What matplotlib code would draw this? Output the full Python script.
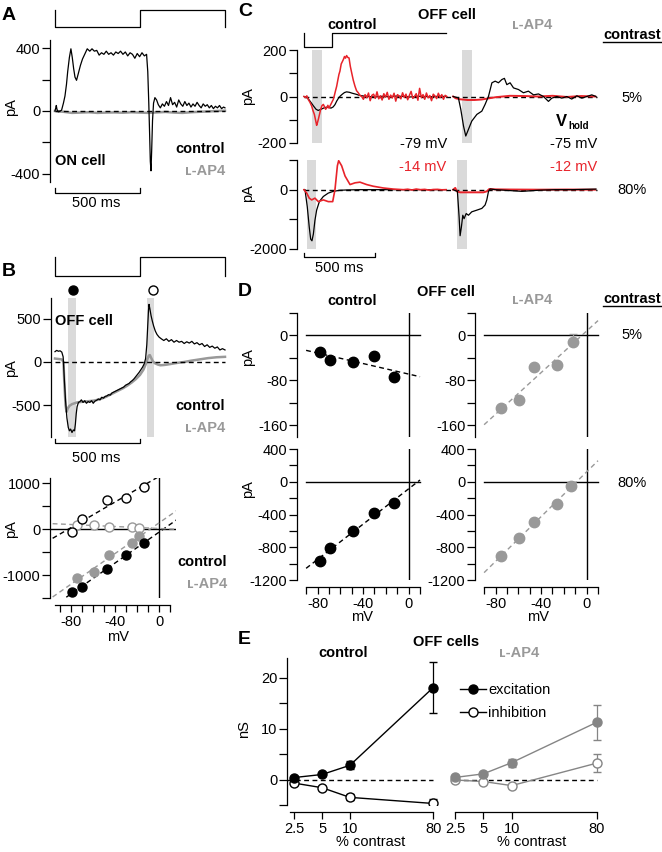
import numpy as np
import matplotlib
matplotlib.use('Agg')
import matplotlib.pyplot as plt
from matplotlib.lines import Line2D
from matplotlib.ticker import NullLocator

# ======================= DATA =======================
# light stimulus (0 = dark step, 1 = bright step)
stim_ab_t = [0, 0, 500, 500, 1000, 1000]
stim_ab_v = [1, 0, 0, 1, 1, 0]
stim_c_t = [0, 0, 200, 200, 1000]
stim_c_v = [1, 0, 0, 1, 1]

# Panel A : ON cell, time (ms), current (pA)
a_ctrl = np.array([
    [0, 0], [5, 20], [8, 35], [12, 10], [20, -5], [30, 0], [39, 5], [50, 50], [59, 95], [68, 170],
    [75, 250], [85, 340], [94, 395], [102, 340], [110, 270], [118, 215], [127, 195], [138, 240],
    [150, 290], [162, 330], [175, 360], [190, 395], [205, 380], [218, 395], [232, 380], [246, 385],
    [260, 355], [274, 370], [288, 360], [302, 380], [316, 360], [330, 370], [344, 355], [358, 375],
    [372, 365], [386, 380], [400, 360], [414, 375], [428, 350], [442, 370], [456, 360], [470, 335],
    [484, 365], [498, 345], [512, 370], [526, 350], [539, 360], [546, 250], [552, 50], [557, -150],
    [561, -320], [565, -380], [569, -250], [574, -60], [580, 50], [588, 85], [598, 70], [608, 40],
    [620, 20], [632, 45], [644, 30], [656, 60], [668, 35], [680, 85], [692, 40], [704, 55],
    [716, 25], [728, 70], [740, 45], [752, 30], [764, 60], [776, 35], [788, 50], [800, 25],
    [812, 45], [824, 30], [836, 55], [848, 35], [860, 20], [872, 45], [884, 30], [896, 40],
    [908, 20], [920, 35], [932, 15], [944, 30], [956, 20], [968, 35], [980, 15], [992, 25], [1000, 20]])
a_lap4 = np.array([
    [0, 0], [50, -5], [100, -12], [150, -10], [200, -8], [250, -12], [300, -10], [350, -9],
    [400, -11], [450, -8], [500, -10], [550, -12], [600, -9], [650, -6], [700, -10], [750, -12],
    [800, -8], [850, -5], [900, -3], [950, 0], [1000, 2]])

# Panel B : OFF cell traces
b_ctrl = np.array([
    [0, 120], [10, 135], [20, 125], [30, 130], [40, 115], [48, 60], [55, -200], [62, -450],
    [70, -650], [78, -760], [85, -800], [92, -780], [100, -820], [108, -790], [115, -800],
    [120, -720], [125, -600], [130, -520], [138, -470], [147, -460], [155, -440], [165, -470],
    [175, -450], [185, -480], [195, -460], [205, -470], [215, -450], [225, -480], [235, -455],
    [245, -445], [255, -430], [265, -440], [275, -410], [285, -420], [295, -400], [305, -395],
    [315, -380], [325, -385], [335, -360], [345, -350], [355, -340], [365, -330], [375, -320],
    [385, -310], [395, -300], [405, -290], [415, -270], [425, -260], [435, -250], [445, -230],
    [455, -215], [465, -195], [475, -170], [485, -145], [495, -120], [505, -90], [515, -60],
    [525, -20], [533, 40], [540, 200], [545, 400], [550, 600], [553, 670], [558, 620], [565, 540],
    [572, 480], [580, 420], [590, 360], [600, 320], [612, 290], [625, 270], [640, 250], [655, 270],
    [670, 240], [685, 260], [700, 230], [715, 250], [730, 230], [745, 240], [760, 215], [775, 235],
    [790, 220], [805, 240], [820, 210], [835, 225], [850, 200], [865, 215], [880, 180], [895, 200],
    [910, 170], [925, 185], [940, 160], [955, 175], [970, 140], [985, 155], [1000, 140]])
b_lap4 = np.array([
    [0, 40], [20, 35], [40, 30], [50, 0], [55, -250], [62, -500], [68, -580], [75, -540],
    [85, -510], [100, -490], [115, -480], [130, -470], [150, -465], [175, -460], [200, -455],
    [225, -450], [250, -440], [275, -425], [300, -405], [325, -380], [350, -355], [375, -330],
    [400, -305], [425, -275], [450, -240], [475, -200], [500, -150], [520, -90], [535, -20],
    [545, 40], [552, 75], [558, 80], [565, 50], [575, 10], [588, -15], [605, -30], [620, -38],
    [640, -35], [660, -30], [690, -20], [720, -10], [760, 0], [800, 15], [850, 30], [900, 45],
    [950, 55], [1000, 60]])
b_windows = [(76, 124), (541, 582)]          # ms, shaded analysis windows
b_marks_t = [106, 576]                        # filled / open markers

# Panel B bottom : I-V (mV, pA)
b_ctrl_v = [-79, -70, -48, -30, -14]
b_ctrl_exc = [-1370, -1261, -870, -565, -298]
b_ctrl_inh = [-59, 224, 630, 667, 920]
b_lap4_v = [-75, -59, -46, -25, -18]
b_lap4_exc = [-1072, -941, -565, -298, -152]
b_lap4_inh = [87, 87, 50, 50, 22]

# Panel C : traces (ms, pA); blk = Vhold -79/-75 mV, red = -14/-12 mV
c_ctrl5_blk = np.array([
    [0, 0], [15, -3], [30, -10], [45, -22], [60, -35], [72, -45], [85, -55], [100, -60], [115, -56],
    [130, -52], [145, -48], [160, -46], [175, -47], [190, -50], [205, -45], [218, -35], [230, -20],
    [242, -8], [255, 2], [270, 10], [285, 17], [300, 20], [320, 18], [340, 14], [365, 10], [390, 5],
    [420, 2], [450, 0], [500, -2], [550, 1], [600, -1], [650, 2], [700, 0], [750, -2], [800, 1],
    [850, 0], [900, -1], [950, 1], [1000, 0]])
c_ctrl5_red_head = np.array([
    [0, 0], [10, -5], [20, 3], [30, -13], [42, -25], [54, -41], [63, -60], [73, -77], [81, -100],
    [89, -124], [95, -112], [101, -98], [108, -80], [117, -56], [126, -40], [136, -34], [145, -45],
    [152, -55], [160, -49], [168, -38], [176, -50], [183, -41], [192, -30], [200, -20], [206, -13],
    [214, 5], [222, 25], [230, 44], [238, 70], [246, 95], [253, 109], [262, 140], [270, 150],
    [277, 159], [285, 172], [292, 165], [300, 176], [308, 168], [317, 166], [326, 130], [336, 101],
    [347, 70], [359, 44], [370, 25], [382, 16], [394, 5]])
c_ctrl5_red_tail_t = [406 + 12 * k for k in range(51)]
c_ctrl5_red_tail_i = [0, -12, 8, -5, 15, -18, 5, 10, -8, 20, -10, 3, -15, 12, -3, 18, -12, 6, -6,
                      14, -20, 8, 2, -10, 16, -4, 10, -14, 5, 22, -8, 0, 12, -16, 35, -5, 8, -12,
                      15, -6, 4, -18, 10, 2, -9, 14, -4, 8, -12, 5, 0]
c_lap45_blk = np.array([
    [0, 0], [37, -6], [54, -56], [73, -127], [89, -170], [108, -141], [131, -106], [167, -77],
    [202, -63], [225, -34], [249, 1], [273, 59], [296, 66], [319, 59], [343, 73], [361, 78],
    [378, 51], [401, 59], [425, 37], [460, 30], [495, 16], [530, 23], [566, 7], [601, 11],
    [636, 0], [671, -21], [695, -7], [730, 0], [765, -7], [800, 0], [835, -11], [871, 3],
    [906, -7], [941, 0], [976, 7], [1006, 0]])
c_lap45_red = np.array([
    [0, 0], [20, -8], [50, -12], [100, -15], [150, -15], [200, -13], [250, -8], [300, -3],
    [350, 0], [400, 3], [500, 2], [600, 0], [700, 3], [800, -2], [900, 2], [1000, 0]])
c_ctrl80_blk = np.array([
    [0, 0], [7, 0], [23, -576], [37, -1266], [47, -1666], [56, -1724], [66, -1494], [77, -1034],
    [89, -690], [108, -403], [136, -230], [171, -115], [206, -57], [253, -20], [300, -10],
    [400, 0], [600, 0], [800, 0], [1000, 0]])
c_ctrl80_red = np.array([
    [0, 0], [19, -115], [37, -287], [54, -345], [77, -287], [101, -403], [136, -345], [171, -403],
    [202, -403], [218, 0], [235, 805], [244, 977], [265, 805], [289, 460], [324, 172], [359, 230],
    [394, 253], [441, 172], [488, 115], [558, 57], [629, 20], [700, 0], [730, 15], [760, -10],
    [790, 20], [820, 0], [850, 10], [880, -15], [910, 5], [940, 10], [970, -5], [1000, 0]])
c_lap480_blk = np.array([
    [0, 0], [30, -57], [42, -920], [49, -1552], [58, -1264], [68, -862], [77, -977], [92, -805],
    [108, -862], [131, -747], [167, -690], [202, -632], [225, -517], [237, -345], [249, -57],
    [261, 23], [296, 0], [366, -20], [484, -57], [601, -20], [718, 0], [836, 0], [1006, 20]])
c_lap480_red = np.array([
    [0, 0], [15, 60], [26, -57], [49, -90], [143, -90], [213, -90], [237, -57], [255, 23],
    [300, 10], [400, 5], [600, 0], [800, 5], [1000, 0]])
c_windows_5 = [(56, 127), (62, 133)]
c_windows_80 = [(21, 84), (28, 99)]

# Panel D : I-V (mV, pA)
d_ctrl_v = [-78, -69, -49, -30, -13]
d_ctrl_5 = [-30, -43, -48, -37, -74]
d_ctrl_80 = [-963, -812, -597, -377, -262]
d_lap4_v5 = [-75, -59, -46, -26, -12]
d_lap4_5 = [-130, -115, -56, -53, -11]
d_lap4_5_err = [0, 0, 0, 0, 13]
d_lap4_v80 = [-75, -59, -46, -26, -14]
d_lap4_80 = [-906, -690, -487, -271, -51]

# Panel E : conductance (nS) vs contrast (%)
contrast = [2.5, 5, 10, 80]
contrast_labels = ['2.5', '5', '10', '80']
e_ctrl_exc = [0.4, 1.0, 2.8, 18.1]
e_ctrl_exc_err = [0.3, 0.3, 0.8, 5.0]
e_ctrl_inh = [-0.7, -1.6, -3.5, -4.7]
e_ctrl_inh_err = [0.2, 0.3, 0.6, 0.8]
e_lap4_exc = [0.5, 1.2, 3.4, 11.3]
e_lap4_exc_err = [0.3, 0.4, 0.8, 3.4]
e_lap4_inh = [0.0, -0.3, -1.1, 3.3]
e_lap4_inh_err = [0.2, 0.3, 0.4, 1.8]

# ======================= STYLE =======================
plt.rcParams['font.family'] = ['Liberation Sans', 'DejaVu Sans']
plt.rcParams['font.size'] = 10.5
GREY = '#999999'
GREY_E = '#858585'
BAR = '#dadada'
RED = '#e8232a'
LAP4 = '\u029f-AP4'
DASH = (3.5, 2.5)

W, H = 662, 852
fig = plt.figure(figsize=(W / 100, H / 100), dpi=100)


def box(l, t, r, b):
    return [l / W, 1 - b / H, (r - l) / W, (b - t) / H]


def add_ax(l, t, r, b):
    ax = fig.add_axes(box(l, t, r, b))
    ax.patch.set_visible(False)
    for s in ax.spines.values():
        s.set_visible(False)
        s.set_linewidth(0.9)
    ax.set_xticks([])
    ax.set_yticks([])
    return ax


def yticks(ax, ticks, labels):
    ax.spines['left'].set_visible(True)
    ax.set_yticks(ticks)
    ax.set_yticklabels(labels)
    ax.tick_params(axis='y', length=5.5, width=0.9, pad=1.5, labelsize=10.5)


def xticks(ax, ticks, labels, bounds, offset=5):
    ax.spines['bottom'].set_visible(True)
    ax.spines['bottom'].set_position(('outward', offset))
    ax.spines['bottom'].set_bounds(*bounds)
    ax.set_xticks(ticks)
    ax.set_xticklabels(labels)
    ax.tick_params(axis='x', length=5, width=0.9, pad=2, labelsize=10.5)


def ftext(x, y, s, **kw):
    kw.setdefault('va', 'center')
    fig.text(x / W, 1 - y / H, s, **kw)


def scalebar(ax, t0, t1, yb, yt):
    tr = ax.get_xaxis_transform()
    ax.plot([t0, t0, t1, t1], [yt, yb, yb, yt], color='k', lw=0.9, transform=tr, clip_on=False)


def stim(l, t, r, b, xlim, ts, vs):
    ax = add_ax(l, t, r, b)
    ax.set_xlim(*xlim)
    ax.set_ylim(0, 1)
    ax.plot(ts, vs, color='k', lw=0.9, clip_on=False)
    return ax


# ======================= PANEL A =======================
axA = add_ax(50, 40, 227, 182)
xlA = (-29, 1012)
axA.set_xlim(*xlA)
axA.set_ylim(-451, 451)
yticks(axA, [-400, -200, 0, 200, 400], ['-400', '', '0', '', '400'])
axA.plot(a_lap4[:, 0], a_lap4[:, 1], color=GREY, lw=1.8)
axA.plot([0, 1000], [0, 0], color='k', lw=1, dashes=DASH)
axA.plot(a_ctrl[:, 0], a_ctrl[:, 1], color='k', lw=0.9)
stim(50, 10, 227, 27, xlA, stim_ab_t, stim_ab_v)
scalebar(axA, 0, 500, -0.0775, -0.042)
ftext(2, 16, 'A', fontsize=14, weight='bold')
ftext(11, 107, 'pA', rotation=90, ha='center')
ftext(55, 161, 'ON cell', weight='bold')
ftext(225, 149, 'control', weight='bold', ha='right')
ftext(225, 171, LAP4, weight='bold', ha='right', color=GREY)
ftext(96, 203, '500 ms', ha='center')

# ======================= PANEL B (traces) =======================
axB = add_ax(51, 298, 227, 437)
xlB = (-23.5, 1011.8)
axB.set_xlim(*xlB)
axB.set_ylim(-872, 744)
yticks(axB, [-500, 0, 500], ['-500', '0', '500'])
for w0, w1 in b_windows:
    axB.axvspan(w0, w1, color=BAR, lw=0, zorder=0)
axB.plot(b_lap4[:, 0], b_lap4[:, 1], color=GREY, lw=1.8)
axB.plot([0, 1000], [0, 0], color='k', lw=1, dashes=DASH)
axB.plot(b_ctrl[:, 0], b_ctrl[:, 1], color='k', lw=0.9)
trB = axB.get_xaxis_transform()
axB.plot([b_marks_t[0]], [1.058], 'o', ms=6.5, color='k', transform=trB, clip_on=False)
axB.plot([b_marks_t[1]], [1.058], 'o', ms=6.5, mfc='white', mec='k', mew=1, transform=trB, clip_on=False)
stim(51, 257, 227, 276, xlB, stim_ab_t, stim_ab_v)
scalebar(axB, 0, 500, -0.043, -0.016)
ftext(2, 272, 'B', fontsize=14, weight='bold')
ftext(11, 368, 'pA', rotation=90, ha='center')
ftext(55, 321, 'OFF cell', weight='bold')
ftext(225, 406, 'control', weight='bold', ha='right')
ftext(225, 428, LAP4, weight='bold', ha='right', color=GREY)
ftext(96, 458, '500 ms', ha='center')

# ======================= PANEL B (I-V) =======================
axBi = add_ax(50, 478, 176, 598)
axBi.set_xlim(-99.4, 15.2)
axBi.set_ylim(-1500, 1109)
yticks(axBi, [-1500, -1000, -500, 0, 500, 1000], ['', '-1000', '', '0', '', '1000'])
xticks(axBi, list(range(-90, 11, 10)), ['', '-80', '', '', '', '-40', '', '', '', '0', ''], (-95, 10), 5)
axBi.plot([-99.4, 14], [0, 0], color='k', lw=1)
axBi.axvline(0, color='k', lw=1)
vv = np.array([-97, 16])
for vs, ys, col in [(b_ctrl_v, b_ctrl_exc, 'k'), (b_ctrl_v, b_ctrl_inh, 'k'),
                    (b_lap4_v, b_lap4_exc, GREY), (b_lap4_v, b_lap4_inh, GREY)]:
    p = np.polyfit(vs, ys, 1)
    axBi.plot(vv, np.polyval(p, vv), color=col, lw=1, dashes=DASH)
axBi.plot(b_lap4_v, b_lap4_inh, 'o', ms=6.5, mfc='white', mec=GREY, mew=1)
axBi.plot(b_ctrl_v, b_ctrl_inh, 'o', ms=6.5, mfc='white', mec='k', mew=1)
axBi.plot(b_lap4_v, b_lap4_exc, 'o', ms=6.5, color=GREY, mec=GREY)
axBi.plot(b_ctrl_v, b_ctrl_exc, 'o', ms=6.5, color='k')
ftext(11, 529, 'pA', rotation=90, ha='center')
ftext(118, 637, 'mV', ha='center')
ftext(227, 562, 'control', weight='bold', ha='right')
ftext(227, 584, LAP4, weight='bold', ha='right', color=GREY)

# ======================= PANEL C =======================
xlC = (-49.3, 2084)
C_OFF = 1050
axC1 = add_ax(297, 50, 600, 143)
axC1.set_xlim(*xlC)
axC1.set_ylim(-200, 200)
yticks(axC1, [-200, -100, 0, 100, 200], ['-200', '', '0', '', '200'])
for (w0, w1), off in zip(c_windows_5, [0, C_OFF]):
    axC1.axvspan(w0 + off, w1 + off, color=BAR, lw=0, zorder=0)
axC1.plot([0, 1010 + C_OFF], [0, 0], color='k', lw=1, dashes=DASH)
axC1.plot(c_ctrl5_blk[:, 0], c_ctrl5_blk[:, 1], color='k', lw=0.9)
axC1.plot(np.r_[c_ctrl5_red_head[:, 0], c_ctrl5_red_tail_t],
          np.r_[c_ctrl5_red_head[:, 1], c_ctrl5_red_tail_i], color=RED, lw=1.1)
axC1.plot(c_lap45_red[:, 0] + C_OFF, c_lap45_red[:, 1], color=RED, lw=1.4)
axC1.plot(c_lap45_blk[:, 0] + C_OFF, c_lap45_blk[:, 1], color='k', lw=0.9)
stim(297, 33, 600, 47, xlC, stim_c_t, stim_c_v)

axC2 = add_ax(297, 160, 600, 249)
axC2.set_xlim(*xlC)
axC2.set_ylim(-2000, 1000)
yticks(axC2, [-2000, -1000, 0, 1000], ['-2000', '', '0', ''])
for (w0, w1), off in zip(c_windows_80, [0, C_OFF]):
    axC2.axvspan(w0 + off, w1 + off, color=BAR, lw=0, zorder=0)
axC2.plot([0, 1010 + C_OFF], [0, 0], color='k', lw=1, dashes=DASH)
axC2.plot(c_ctrl80_blk[:, 0], c_ctrl80_blk[:, 1], color='k', lw=0.9)
axC2.plot(c_ctrl80_red[:, 0], c_ctrl80_red[:, 1], color=RED, lw=1.2)
axC2.plot(c_lap480_red[:, 0] + C_OFF, c_lap480_red[:, 1], color=RED, lw=1.4)
axC2.plot(c_lap480_blk[:, 0] + C_OFF, c_lap480_blk[:, 1], color='k', lw=0.9)
scalebar(axC2, 0, 500, -0.0865, -0.045)

ftext(238, 12, 'C', fontsize=14, weight='bold')
ftext(352, 25, 'control', weight='bold', ha='center')
ftext(418, 15, 'OFF cell', weight='bold')
ftext(532, 25, LAP4, weight='bold', ha='center', color=GREY)
ftext(603, 35, 'contrast', weight='bold')
fig.add_artist(Line2D([603 / W, 662 / W], [1 - 42 / H, 1 - 42 / H], color='k', lw=1))
ftext(632, 98, '5%', ha='center')
ftext(632, 190, '80%', ha='center')
ftext(248, 96, 'pA', rotation=90, ha='center')
ftext(248, 193, 'pA', rotation=90, ha='center')
ftext(447, 144, '-79 mV', ha='right')
ftext(597, 144, '-75 mV', ha='right')
ftext(446, 167, '-14 mV', ha='right', color=RED)
ftext(597, 167, '-12 mV', ha='right', color=RED)
ftext(556, 121, 'V', weight='bold', fontsize=12)
ftext(568, 126, 'hold', weight='bold', fontsize=7)
ftext(339, 268, '500 ms', ha='center')

# ======================= PANEL D =======================
xlD = (-98, 12)
v_line = np.array([-90, 10])


def iv_axes(l, t, r, b, ylim, ticks, labels, show_x):
    ax = add_ax(l, t, r, b)
    ax.set_xlim(*xlD)
    ax.set_ylim(*ylim)
    yticks(ax, ticks, labels)
    ax.plot([-90, 10], [0, 0], color='k', lw=1)
    ax.axvline(0, color='k', lw=1)
    if show_x:
        xticks(ax, list(range(-90, 11, 10)), ['', '-80', '', '', '', '-40', '', '', '', '0', ''],
               (-90, 10), 5)
    return ax


t5 = [-160, -120, -80, -40, 0, 40]
l5 = ['-160', '', '-80', '', '0', '']
t80 = [-1200, -1000, -800, -600, -400, -200, 0, 200, 400]
l80 = ['-1200', '', '-800', '', '-400', '', '0', '', '400']

axD1 = iv_axes(297, 313, 422.3, 437, (-181, 40), t5, l5, False)
p = np.polyfit(d_ctrl_v, d_ctrl_5, 1)
axD1.plot(v_line, np.polyval(p, v_line), color='k', lw=1, dashes=DASH)
axD1.plot(d_ctrl_v, d_ctrl_5, 'o', ms=7.5, color='k')

axD2 = iv_axes(297, 449, 422.3, 580, (-1200, 400), t80, l80, True)
p = np.polyfit(d_ctrl_v, d_ctrl_80, 1)
axD2.plot(v_line, np.polyval(p, v_line), color='k', lw=1, dashes=DASH)
axD2.plot(d_ctrl_v, d_ctrl_80, 'o', ms=7.5, color='k')

axD3 = iv_axes(475, 313, 600.3, 437, (-181, 40), t5, l5, False)
p = np.polyfit(d_lap4_v5, d_lap4_5, 1)
axD3.plot(v_line, np.polyval(p, v_line), color=GREY, lw=1, dashes=DASH)
axD3.errorbar(d_lap4_v5, d_lap4_5, yerr=[[0] * 5, d_lap4_5_err], fmt='o', ms=7.5, color=GREY,
              ecolor=GREY, elinewidth=0.9, capsize=3)

axD4 = iv_axes(475, 449, 600.3, 580, (-1200, 400), t80, l80, True)
p = np.polyfit(d_lap4_v80, d_lap4_80, 1)
axD4.plot(v_line, np.polyval(p, v_line), color=GREY, lw=1, dashes=DASH)
axD4.plot(d_lap4_v80, d_lap4_80, 'o', ms=7.5, color=GREY)

ftext(238, 292, 'D', fontsize=14, weight='bold')
ftext(352, 301, 'control', weight='bold', ha='center')
ftext(417, 292, 'OFF cell', weight='bold')
ftext(532, 300, LAP4, weight='bold', ha='center', color=GREY)
ftext(603, 299, 'contrast', weight='bold')
fig.add_artist(Line2D([603 / W, 662 / W], [1 - 306 / H, 1 - 306 / H], color='k', lw=1))
ftext(632, 335, '5%', ha='center')
ftext(632, 483, '80%', ha='center')
ftext(248, 357, 'pA', rotation=90, ha='center')
ftext(248, 489, 'pA', rotation=90, ha='center')
ftext(362, 617, 'mV', ha='center')
ftext(538, 617, 'mV', ha='center')

# ======================= PANEL E =======================
xlE = (2.084, 94.6)


def e_axes(l, r, bounds, left):
    ax = add_ax(l, 658, r, 805)
    ax.set_xscale('log', base=2)
    ax.set_xlim(*xlE)
    ax.set_ylim(-4.9, 23.9)
    ax.xaxis.set_minor_locator(NullLocator())
    xticks(ax, contrast, contrast_labels, bounds, 5)
    if left:
        yticks(ax, [-5, 0, 5, 10, 15, 20], ['', '0', '', '10', '', '20'])
    ax.plot([xlE[0] if left else 2.5, 80], [0, 0], color='k', lw=1, dashes=DASH, zorder=1)
    return ax


axE1 = e_axes(287, 440, (2.25, 80), True)
axE1.errorbar(contrast, e_ctrl_inh, yerr=e_ctrl_inh_err, fmt='-o', color='k', lw=1, ms=6.5,
              mfc='white', mec='k', mew=1, capsize=3, elinewidth=0.9, zorder=3)
axE1.errorbar(contrast, e_ctrl_exc, yerr=e_ctrl_exc_err, fmt='-o', color='k', lw=1, ms=6.5,
              capsize=3, elinewidth=0.9, zorder=4)

axE2 = fig.add_axes(box(448, 658, 604, 805))
axE2.patch.set_visible(False)
for s in axE2.spines.values():
    s.set_visible(False)
    s.set_linewidth(0.9)
axE2.set_yticks([])
axE2.set_xscale('log', base=2)
axE2.set_xlim(2.106, 94.6 * 2.106 / 2.084)
axE2.set_ylim(-4.9, 23.9)
axE2.xaxis.set_minor_locator(NullLocator())
xticks(axE2, contrast, contrast_labels, (2.5, 80), 5)
axE2.plot([2.5, 80], [0, 0], color='k', lw=1, dashes=DASH, zorder=1)
axE2.errorbar(contrast, e_lap4_inh, yerr=e_lap4_inh_err, fmt='-o', color=GREY_E, lw=1, ms=6.5,
              mfc='white', mec=GREY_E, mew=1, capsize=3, elinewidth=0.9, zorder=3)
axE2.errorbar(contrast, e_lap4_exc, yerr=e_lap4_exc_err, fmt='-o', color=GREY_E, lw=1, ms=6.5,
              capsize=3, elinewidth=0.9, zorder=4)

handles = [Line2D([], [], color='k', lw=1, marker='o', ms=6.5),
           Line2D([], [], color='k', lw=1, marker='o', ms=6.5, mfc='white', mec='k')]
axE2.legend(handles, ['excitation', 'inhibition'], loc='upper left',
            bbox_to_anchor=(460 / W, 1 - 683 / H), bbox_transform=fig.transFigure,
            frameon=False, handlelength=1.8, handletextpad=0.15, labelspacing=0.62,
            borderpad=0, borderaxespad=0, fontsize=10.5)

ftext(238, 639, 'E', fontsize=14, weight='bold')
ftext(343, 653, 'control', weight='bold', ha='center')
ftext(413, 642, 'OFF cells', weight='bold')
ftext(519, 653, LAP4, weight='bold', ha='center', color=GREY)
ftext(244, 729, 'nS', rotation=90, ha='center')
ftext(371, 842, '% contrast', ha='center')
ftext(532, 842, '% contrast', ha='center')

fig.savefig('out.png', dpi=100)
